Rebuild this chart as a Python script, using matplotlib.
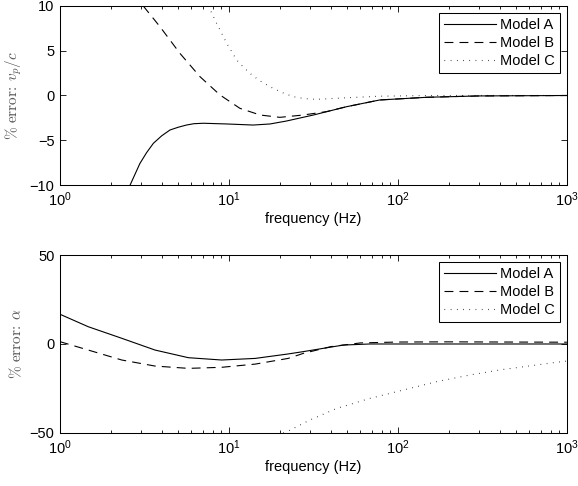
import numpy as np
import matplotlib
matplotlib.use('Agg')
import matplotlib.pyplot as plt
from matplotlib.ticker import LogLocator, FixedLocator, NullFormatter

plt.rcParams['font.family'] = ['Liberation Sans', 'DejaVu Sans']
plt.rcParams['mathtext.fontset'] = 'custom'
plt.rcParams['mathtext.rm'] = 'Liberation Sans'
plt.rcParams['mathtext.it'] = 'Liberation Sans:italic'
plt.rcParams['mathtext.bf'] = 'Liberation Sans:bold'
plt.rcParams['font.size'] = 10.5
plt.rcParams['axes.unicode_minus'] = True

labels = ['Model A', 'Model B', 'Model C']

# phase velocity error (top panel)
vp_f_a = [2.6, 2.97, 3.25, 3.57, 4.0, 4.48, 5.0, 5.6, 6.2, 7.05, 9.7, 13.9, 17.5, 21.9, 31.6, 49.7, 78, 148, 300, 1000]
vp_a = [-10, -7.6, -6.4, -5.34, -4.5, -3.85, -3.55, -3.3, -3.15, -3.1, -3.18, -3.3, -3.18, -2.85, -2.18, -1.25, -0.5, -0.2, -0.05, 0]
vp_f_b = [3.11, 3.9, 5.13, 6.74, 8.85, 11.6, 15.3, 20, 27.5, 37.8, 49.7, 78, 148, 300, 1000]
vp_b = [10, 7.7, 4.7, 2.1, 0.06, -1.43, -2.18, -2.44, -2.18, -1.8, -1.25, -0.5, -0.2, -0.05, 0]
vp_f_c = [7.55, 8.45, 9.7, 11.1, 12.2, 13.3, 15.2, 17.5, 20.5, 24, 28, 33, 50, 78, 148, 1000]
vp_c = [10, 8.07, 5.83, 3.97, 3.15, 2.48, 1.65, 0.98, 0.35, -0.13, -0.35, -0.43, -0.25, -0.08, 0, 0]

# attenuation error (bottom panel)
al_f_a = [1, 1.47, 2.32, 3.65, 5.75, 9.05, 14.3, 22.4, 27.5, 47.5, 68, 1000]
al_a = [16.7, 9.7, 3.2, -3.4, -7.7, -9.0, -8.1, -5.6, -4.3, -0.6, 0, 0]
al_f_b = [1, 1.47, 2.32, 3.65, 5.75, 9.05, 14.3, 22.4, 27.5, 40, 60, 100, 200, 1000]
al_b = [1.3, -3.4, -9.0, -12.4, -13.7, -13.1, -11.3, -8.1, -5.3, -1.5, 0.6, 1.1, 1.2, 1.0]
al_f_c = [21, 23, 30, 43.4, 68, 107, 169, 267, 420, 661, 930, 1000]
al_c = [-50, -48.4, -42.8, -36.2, -30.6, -25.9, -21.2, -17.4, -14.3, -11.8, -9.9, -9.6]

styles = ['-', (0, (8, 5.5)), (0, (0.6, 5))]

fig = plt.figure(figsize=(5.78, 4.86), dpi=100)
ax1 = fig.add_axes([0.1038, 0.6193, 0.877, 0.3684])
ax2 = fig.add_axes([0.1038, 0.1091, 0.877, 0.3662])

def setup(ax, fs, vs, ylim, yticks, ylab):
    for f, v, ls, lab in zip(fs, vs, styles, labels):
        ax.plot(f, v, color='black', linestyle=ls, linewidth=0.8, label=lab)
    ax.set_xscale('log')
    ax.set_xlim(1, 1000)
    ax.set_ylim(*ylim)
    ax.yaxis.set_major_locator(FixedLocator(yticks))
    ax.xaxis.set_major_locator(LogLocator(base=10, numticks=10))
    ax.xaxis.set_minor_locator(LogLocator(base=10, subs=np.arange(2, 10), numticks=10))
    ax.xaxis.set_minor_formatter(NullFormatter())
    ax.tick_params(which='both', direction='in', top=True, right=True, width=0.6)
    ax.tick_params(which='major', length=4, pad=4)
    ax.tick_params(which='minor', length=2.2)
    for s in ax.spines.values():
        s.set_linewidth(0.75)
    ax.set_xlabel('frequency (Hz)', labelpad=2)
    ax.set_ylabel(ylab, math_fontfamily='cm', color='#555555', fontsize=11, labelpad=4)
    leg = ax.legend(loc='upper right', fancybox=False, framealpha=1, edgecolor='black',
                    handlelength=3.6, handletextpad=0.3, labelspacing=0.3,
                    borderaxespad=0.5, borderpad=0.3, fontsize=10.5)
    leg.get_frame().set_linewidth(0.75)

setup(ax1, [vp_f_a, vp_f_b, vp_f_c], [vp_a, vp_b, vp_c], (-10, 10), [-10, -5, 0, 5, 10],
      r'$\%\ \mathrm{error}\!:\,v_p/c$')
setup(ax2, [al_f_a, al_f_b, al_f_c], [al_a, al_b, al_c], (-50, 50), [-50, 0, 50],
      r'$\%\ \mathrm{error}\!:\,\alpha$')

fig.savefig('out.png', dpi=100)
